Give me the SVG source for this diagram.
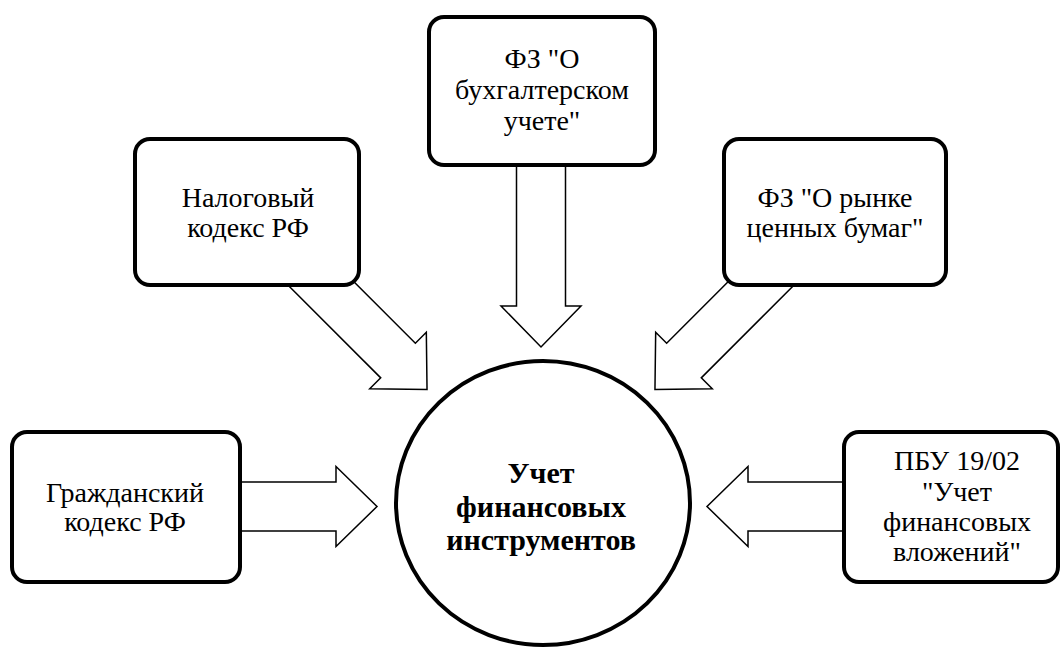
<svg xmlns="http://www.w3.org/2000/svg" width="1062" height="648" viewBox="0 0 1062 648">
<style>
.box{fill:#fff;stroke:#000;stroke-width:4}
.arrow{fill:#fff;stroke:#000;stroke-width:1.5;stroke-linejoin:miter}
.t{font-family:'Liberation Serif','Times New Roman',serif;font-size:28px;fill:#000;text-anchor:middle}
.tb{font-family:'Liberation Serif','Times New Roman',serif;font-size:30px;font-weight:bold;fill:#000;text-anchor:middle}
</style>
<rect width="1062" height="648" fill="#fff"/>
<g id="connectors">
<path class="arrow" transform="translate(240,506.5)" d="M-40,-24.5 L96,-24.5 L96,-40 L137,0 L96,40 L96,24.5 L-40,24.5"/>
<path class="arrow" transform="translate(844,506.5) rotate(180)" d="M-40,-24.5 L96,-24.5 L96,-40 L137,0 L96,40 L96,24.5 L-40,24.5"/>
<path class="arrow" transform="translate(541,165) rotate(90)" d="M-40,-24.5 L141,-24.5 L141,-40 L182,0 L141,40 L141,24.5 L-40,24.5"/>
<path class="arrow" transform="translate(324.5,287) rotate(45)" d="M-40,-24.5 L104,-24.5 L104,-40 L145,0 L104,40 L104,24.5 L-40,24.5"/>
<path class="arrow" transform="translate(757.5,287) rotate(135)" d="M-40,-24.5 L104,-24.5 L104,-40 L145,0 L104,40 L104,24.5 L-40,24.5"/>
</g>
<g id="node-civil">
<rect class="box" x="12" y="432" width="228" height="150" rx="15"/>
<text class="t" x="125" y="502">Гражданский</text>
<text class="t" x="125" y="531">кодекс РФ</text>
</g>
<g id="node-tax">
<rect class="box" x="135" y="139" width="224" height="146" rx="15"/>
<text class="t" x="248" y="207">Налоговый</text>
<text class="t" x="248" y="237">кодекс РФ</text>
</g>
<g id="node-accounting">
<rect class="box" x="429" y="17" width="226" height="148" rx="15"/>
<text class="t" x="542" y="68">ФЗ "О</text>
<text class="t" x="542" y="99">бухгалтерском</text>
<text class="t" x="542" y="130">учете"</text>
</g>
<g id="node-securities">
<rect class="box" x="724" y="139" width="222" height="146" rx="15"/>
<text class="t" x="835" y="207">ФЗ "О рынке</text>
<text class="t" x="835" y="237">ценных бумаг"</text>
</g>
<g id="node-pbu">
<rect class="box" x="844" y="432" width="214" height="150" rx="15"/>
<text class="t" x="957" y="470">ПБУ 19/02</text>
<text class="t" x="957" y="501">"Учет</text>
<text class="t" x="957" y="531">финансовых</text>
<text class="t" x="957" y="561">вложений"</text>
</g>
<g id="node-center">
<ellipse class="box" cx="543" cy="503" rx="147" ry="142"/>
<text class="tb" x="541" y="483">Учет</text>
<text class="tb" x="541" y="517">финансовых</text>
<text class="tb" x="541" y="550">инструментов</text>
</g>
</svg>
